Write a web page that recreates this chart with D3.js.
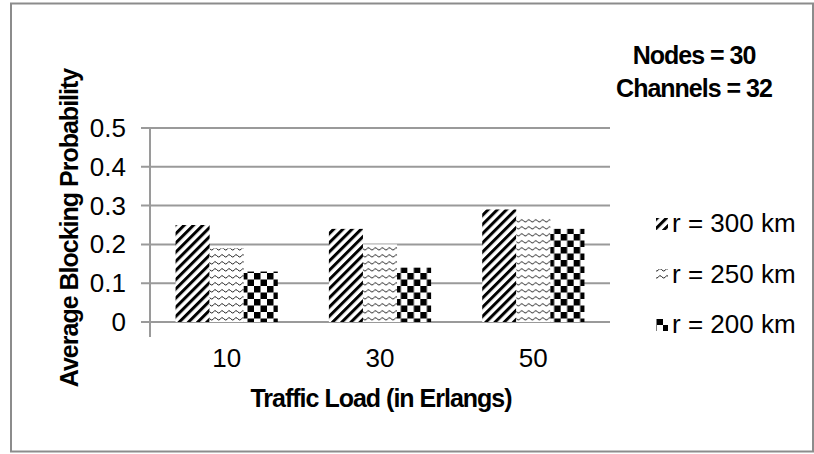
<!DOCTYPE html>
<html><head><meta charset="utf-8">
<script src="https://cdn.jsdelivr.net/npm/d3@7"></script>
<style>
body{margin:0;background:#fff;}
svg text{font-family:"Liberation Sans",Arial,sans-serif;fill:#000;}
</style></head>
<body><svg id="c" width="814" height="454"></svg>
<script>
const categories = ["10","30","50"];
const seriesNames = ["r = 300 km","r = 250 km","r = 200 km"];
const r300 = [0.25, 0.24, 0.29];
const r250 = [0.19, 0.20, 0.27];
const r200 = [0.13, 0.14, 0.24];
const yTicks = [0, 0.1, 0.2, 0.3, 0.4, 0.5];
const yTickLabels = ["0","0.1","0.2","0.3","0.4","0.5"];
const annotation = ["Nodes = 30","Channels = 32"];
const xTitle = "Traffic Load (in Erlangs)";
const yTitle = "Average Blocking Probability";

const seriesValues = [r300, r250, r200];
const patternIds = ["pStripe","pWave","pCheck"];

const svg = d3.select("#c");
const defs = svg.append("defs");

// diagonal stripes
const p1 = defs.append("pattern").attr("id","pStripe").attr("patternUnits","userSpaceOnUse")
  .attr("width",6.5).attr("height",6.5).attr("patternTransform","rotate(45)");
p1.append("rect").attr("width",6.5).attr("height",6.5).attr("fill","#fff");
p1.append("rect").attr("x",0).attr("width",3).attr("height",6.5).attr("fill","#000");

// wave
const p2 = defs.append("pattern").attr("id","pWave").attr("patternUnits","userSpaceOnUse")
  .attr("width",7).attr("height",7);
p2.append("rect").attr("width",7).attr("height",7).attr("fill","#fff");
p2.append("path").attr("d","M0,4.5 Q1.75,1 3.5,3.5 T7,4.5").attr("fill","none").attr("stroke","#222").attr("stroke-width",1);

// checker
const p3 = defs.append("pattern").attr("id","pCheck").attr("patternUnits","userSpaceOnUse")
  .attr("width",13).attr("height",13);
p3.append("rect").attr("width",13).attr("height",13).attr("fill","#fff");
p3.append("rect").attr("x",0).attr("y",0).attr("width",6.5).attr("height",6.5).attr("fill","#000");
p3.append("rect").attr("x",6.5).attr("y",6.5).attr("width",6.5).attr("height",6.5).attr("fill","#000");

// border
svg.append("rect").attr("x",11).attr("y",3.5).attr("width",802).attr("height",448)
  .attr("fill","none").attr("stroke","#8c8c8c").attr("stroke-width",2);

const x0 = d3.scaleBand().domain(categories).range([150,610]).paddingInner(0).paddingOuter(0);
const x1 = d3.scaleBand().domain(d3.range(seriesNames.length)).range([0,x0.bandwidth()]).paddingInner(0).paddingOuter(0.75);
const y = d3.scaleLinear().domain([0,0.5]).range([322,128]);

// gridlines
svg.append("g").selectAll("line").data(yTicks).join("line")
  .attr("x1",141).attr("x2",610).attr("y1",d=>y(d)).attr("y2",d=>y(d))
  .attr("stroke","#9a9a9a").attr("stroke-width",2);
// y axis line
svg.append("line").attr("x1",150).attr("x2",150).attr("y1",y(0.5)).attr("y2",y(0)+15)
  .attr("stroke","#9a9a9a").attr("stroke-width",2);

// y tick labels
svg.append("g").selectAll("text").data(yTicks).join("text")
  .attr("x",126).attr("y",d=>y(d)+9).attr("text-anchor","end")
  .attr("font-size",26).text((d,i)=>yTickLabels[i]);

// x tick labels
svg.append("g").selectAll("text").data(categories).join("text")
  .attr("x",d=>x0(d)+x0.bandwidth()/2).attr("y",367).attr("text-anchor","middle")
  .attr("font-size",26).text(d=>d);

// bars
const groups = svg.append("g").selectAll("g").data(categories).join("g")
  .attr("transform",d=>`translate(${x0(d)},0)`);
groups.selectAll("rect").data((d,ci)=>seriesValues.map((s,si)=>({si, v:s[ci]}))).join("rect")
  .attr("x",d=>x1(d.si)).attr("width",x1.bandwidth())
  .attr("y",d=>y(d.v)).attr("height",d=>y(0)-y(d.v))
  .attr("fill",d=>`url(#${patternIds[d.si]})`);

// titles
svg.append("text").attr("x",381).attr("y",407).attr("text-anchor","middle")
  .attr("font-size",25).attr("font-weight","bold").attr("letter-spacing",-1).text(xTitle);
svg.append("text").attr("transform","translate(78,228) rotate(-90)").attr("text-anchor","middle")
  .attr("font-size",25).attr("font-weight","bold").attr("letter-spacing",-1).text(yTitle);

// annotation
svg.append("g").selectAll("text").data(annotation).join("text")
  .attr("x",694).attr("y",(d,i)=>64+i*33).attr("text-anchor","middle")
  .attr("font-size",25).attr("font-weight","bold").attr("letter-spacing",-1).text(d=>d);

// legend
const legendBase = [232,283,333];
const lg = svg.append("g").selectAll("g").data(seriesNames).join("g");
lg.append("rect").attr("x",656).attr("y",(d,i)=>legendBase[i]-14).attr("width",12).attr("height",12)
  .attr("fill",(d,i)=>`url(#${patternIds[i]})`);
lg.append("text").attr("x",672).attr("y",(d,i)=>legendBase[i]).attr("font-size",26)
  .text(d=>d);
</script></body></html>
